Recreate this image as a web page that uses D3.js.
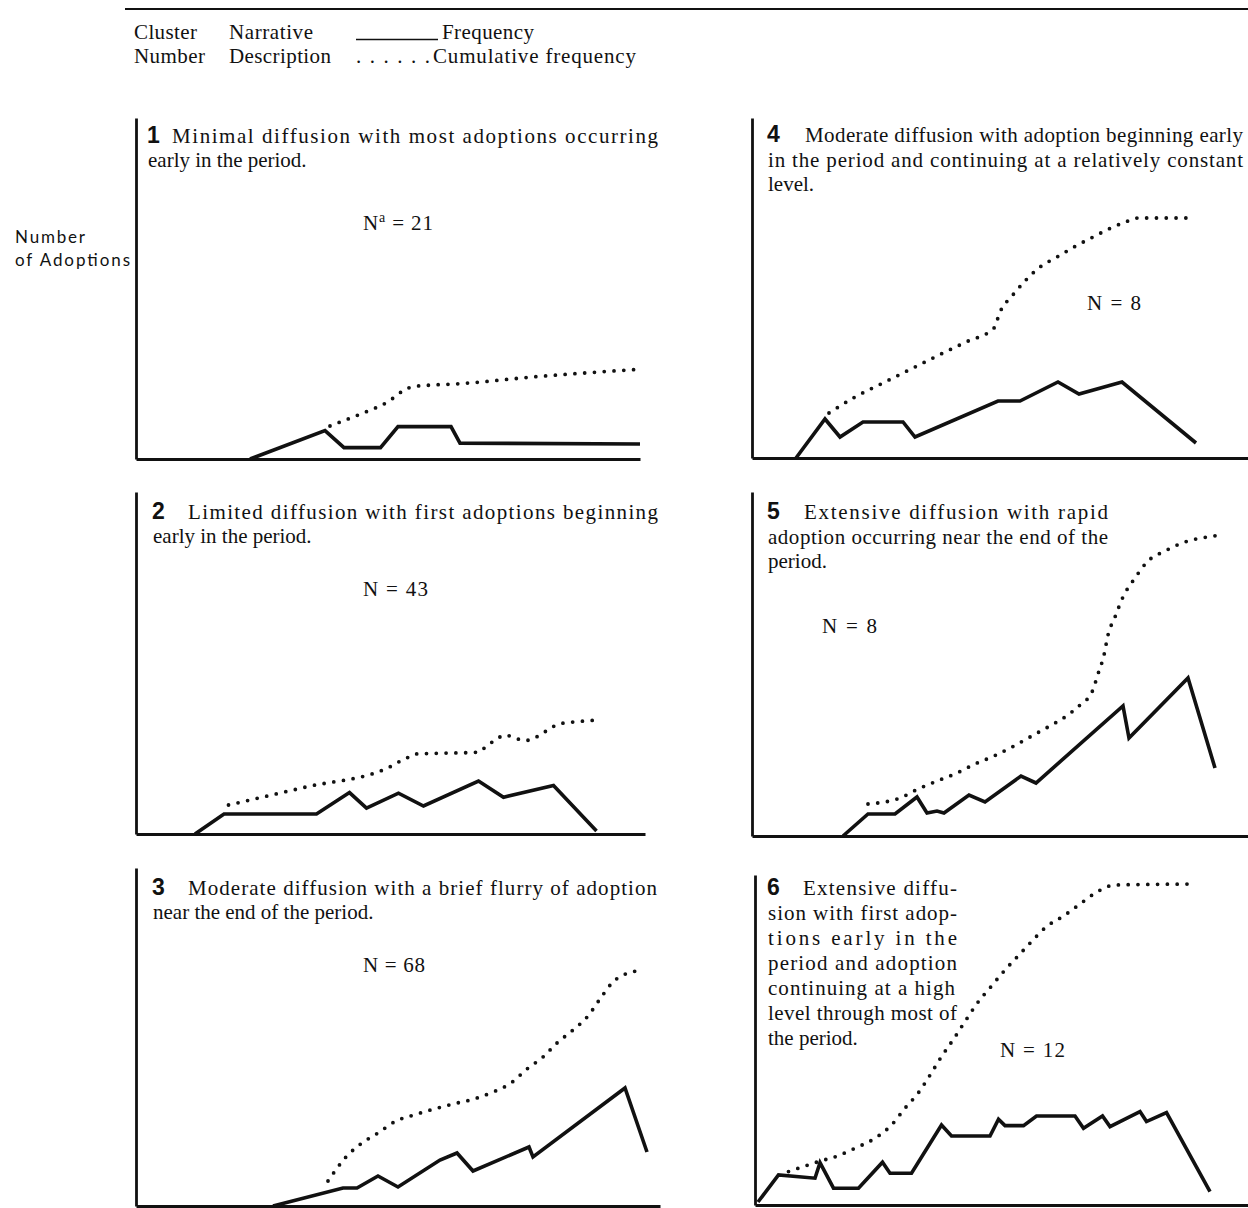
<!DOCTYPE html>
<html>
<head>
<meta charset="utf-8">
<script src="https://cdn.jsdelivr.net/npm/d3@7"></script>
<style>
  html, body { margin: 0; padding: 0; background: #fff; }
  svg { display: block; }
  .serif { font-family: "Liberation Serif", "Times New Roman", serif; fill: #111; }
  .num { font-family: "Liberation Sans", Arial, sans-serif; font-weight: bold; fill: #111; }
  .sans { font-family: Lato, "Open Sans", sans-serif; fill: #111; }
</style>
</head>
<body>
<svg id="chart" width="1248" height="1208"></svg>
<script>
// ---------------- DATA ----------------
// x = position within the period (0-100), y = number of adoptions (relative units)
const clusterNumbers = ["1", "2", "3", "4", "5", "6"];
const nValues = ["21", "43", "68", "8", "8", "12"];

const desc1 = ["Minimal diffusion with most adoptions occurring", "early in the period."];
const desc2 = ["Limited diffusion with first adoptions beginning", "early in the period."];
const desc3 = ["Moderate diffusion with a brief flurry of adoption", "near the end of the period."];
const desc4 = ["Moderate diffusion with adoption beginning early", "in the period and continuing at a relatively constant", "level."];
const desc5 = ["Extensive diffusion with rapid", "adoption occurring near the end of the", "period."];
const desc6 = ["Extensive diffu-", "sion with first adop-", "tions early in the", "period and adoption", "continuing at a high", "level through most of", "the period."];

const freq1 = [[22.8,0],[37.8,14.2],[41.6,5.7],[48.9,5.7],[52.4,16.2],[63,16.2],[64.8,7.9],[100.8,7.5]];
const cum1  = [[38.8,16.5],[42.6,20.2],[46.6,24.2],[50.3,28.5],[52,31.5],[53.6,34.5],[55.6,36.2],[59.4,37],[63.6,37.5],[80.2,41.2],[90.8,43.2],[100.8,44.9]];

const freq2 = [[11.8,0],[17.6,10],[36.1,10],[42.7,20.7],[46.1,12.9],[52.5,20.4],[57.5,14],[68.5,26.5],[73.5,18.4],[83.5,24.2],[92.1,1.5]];
const cum2  = [[18.5,14.5],[34,23.5],[50.5,33.2],[52.3,35.7],[54.1,37.9],[56,40],[68.5,40.9],[70.1,44],[71.9,47],[73.8,49.5],[75.6,48.2],[77.7,46.7],[79.3,47.5],[81,49.9],[82.7,52.5],[84.5,55],[86.5,55.7],[92.5,57]];

const freq3 = [[27.4,0],[41.4,9],[44.2,9],[48.4,15],[52.4,9.5],[60.8,23],[64.2,26.5],[67.4,17.5],[78.6,29.5],[79.4,24.5],[97.8,59],[102.2,27]];
const cum3  = [[38.4,12.5],[42,24.5],[45.2,31.5],[48.4,36.5],[52,42.5],[55.6,45.5],[59.6,48.5],[63.4,51],[67.6,53.5],[71.4,57],[75,61.5],[78.2,68.5],[81.4,74.5],[84.2,81.5],[87.4,88],[90.4,95],[92.8,103.5],[95.2,111.5],[98.4,116.5],[100.2,117.5]];

const freq4 = [[8.8,0],[14.6,19.5],[17.6,10.5],[22.2,18],[30.2,18],[32.6,10.5],[49.2,28.5],[53.6,28.5],[61.2,38],[65.4,32],[74,38],[88.8,7.5]];
const cum4  = [[15.4,22.5],[20.6,30.5],[26.2,37.5],[31.8,44.5],[37.4,51.5],[42.8,58],[48.4,65],[49.6,73],[52,81],[54.6,88.5],[57.6,95.5],[61,100.5],[64.4,105.5],[68.2,110.5],[71.8,115],[75.2,118.5],[77.2,120],[87.6,120]];

const freq5 = [[18.2,0],[23.2,11],[28.6,11],[33,19.5],[35,11.5],[37,12.5],[38.4,11.5],[43.4,20.5],[46.6,17],[53.8,30],[56.8,26.5],[74.2,65],[75.4,49],[87.2,79],[92.6,34]];
const cum5  = [[23.2,16],[29.6,19],[33.2,23.5],[37,27.5],[41,31.5],[44.6,36],[48.4,40],[52,44.5],[55.6,49.5],[59.2,54.5],[62.6,59.5],[65.6,65.5],[68,72],[69.2,81],[70.4,90.5],[71.2,100.5],[72.6,109.5],[74.2,119.5],[76.6,129],[79,137],[82.6,142.5],[86.6,147],[91,149.5],[94.2,150.5]];

const freq6 = [[0.6,1.5],[4.7,15],[12,13.4],[13,21.2],[15.7,8.4],[20.7,8.4],[25.5,21.4],[27,15.9],[31.3,15.9],[37.3,40],[39.3,34.5],[47,34.5],[48.7,42.9],[50,39.7],[53.7,39.7],[56.3,44.5],[64,44.5],[65.7,38.4],[69.5,44.5],[71,39.2],[77,46.7],[78.3,41.7],[82.3,46.2],[91,6.7]];
const cum6  = [[6.7,16.7],[12.7,21.7],[16.7,24.7],[20,28.4],[24,33.4],[27.3,40],[30,48.4],[32.7,56.2],[34.9,64.5],[37.3,74.2],[39.7,82.9],[42.3,92.9],[44.3,100.4],[47.3,109.5],[50,117.5],[52.5,124.2],[55.3,131.7],[58.3,139.2],[61.7,144.5],[65,150.5],[68.5,156.7],[72,160],[88.3,160.5]];

const legendLabels = ["Cluster", "Number", "Narrative", "Description", "Frequency", "Cumulative frequency"];
const yLabel = ["Number", "of Adoptions"];

// ---------------- LAYOUT ----------------
const layout = [
  { x0: 136, bottom: 459,  top: 118, right: 640,  numX: 147, textX: 172, lineEnd: 658,  base: 143, gap: 24, nX: 363, nW: 70, nBase: 230 },
  { x0: 136, bottom: 834,  top: 492, right: 645,  numX: 152, textX: 188, lineEnd: 658,  base: 519, gap: 24, nX: 363, nW: 65, nBase: 596 },
  { x0: 136, bottom: 1206, top: 868, right: 660,  numX: 152, textX: 188, lineEnd: 657,  base: 895, gap: 24, nX: 363, nW: 62, nBase: 972 },
  { x0: 752, bottom: 458,  top: 118, right: 1248, numX: 767, textX: 805, lineEnd: 1243, base: 142, gap: 24.5, nX: 1087, nW: 54, nBase: 310 },
  { x0: 752, bottom: 836,  top: 492, right: 1248, numX: 767, textX: 804, lineEnd: 1108, base: 519, gap: 24.5, nX: 822, nW: 55, nBase: 633 },
  { x0: 755, bottom: 1205, top: 875, right: 1248, numX: 767, textX: 803, lineEnd: 957,  base: 895, gap: 25, nX: 1000, nW: 65, nBase: 1057 }
];
const descs = [desc1, desc2, desc3, desc4, desc5, desc6];
const freqs = [freq1, freq2, freq3, freq4, freq5, freq6];
const cums = [cum1, cum2, cum3, cum4, cum5, cum6];
const justifiedEnds = [null, null, null, null, null, [957, 957, 957, 957, 955]];

const svg = d3.select("#chart");
const FS = 21;

// top rule
svg.append("line").attr("x1", 125).attr("x2", 1248).attr("y1", 9).attr("y2", 9)
  .attr("stroke", "#111").attr("stroke-width", 2.2);

function addText(txt, x, y, cls, size, width) {
  const t = svg.append("text").attr("class", cls).attr("x", x).attr("y", y)
    .attr("font-size", size).text(txt);
  if (width) t.attr("textLength", width).attr("lengthAdjust", "spacing");
  return t;
}
// legend
addText(legendLabels[0], 134, 39, "serif", FS, 63);
addText(legendLabels[1], 134, 63, "serif", FS, 71);
addText(legendLabels[2], 229, 39, "serif", FS, 84);
addText(legendLabels[3], 229, 63, "serif", FS, 102);
svg.append("line").attr("x1", 356).attr("x2", 438).attr("y1", 39.5).attr("y2", 39.5)
  .attr("stroke", "#111").attr("stroke-width", 1.4);
addText(legendLabels[4], 442, 39, "serif", FS, 92);
addText(". . . . . .", 356, 63, "serif", FS, 74);
addText(legendLabels[5], 433, 63, "serif", FS, 203);

// y label
addText(yLabel[0], 15, 243, "sans", 17, 70);
addText(yLabel[1], 15, 266, "sans", 17, 115);

const lineGen = (x, y) => d3.line().x(d => x(d[0])).y(d => y(d[1]));

layout.forEach((L, i) => {
  const x = d3.scaleLinear().domain([0, 100]).range([L.x0, L.x0 + 500]);
  const y = d3.scaleLinear().domain([0, 170]).range([L.bottom, L.bottom - 340]);
  const g = svg.append("g");

  // axes (no ticks)
  const xAxisScale = d3.scaleLinear().domain([0, 1]).range([L.x0, L.right]);
  const yAxisScale = d3.scaleLinear().domain([0, 1]).range([L.bottom, L.top]);
  const ax = g.append("g").attr("transform", `translate(0,${L.bottom})`)
    .call(d3.axisBottom(xAxisScale).ticks(0).tickSizeOuter(0));
  const ay = g.append("g").attr("transform", `translate(${L.x0},0)`)
    .call(d3.axisLeft(yAxisScale).ticks(0).tickSizeOuter(0));
  [ax, ay].forEach(a => a.select(".domain").attr("stroke", "#111").attr("stroke-width", 2.8));

  // cumulative (dotted)
  g.append("path").datum(cums[i])
    .attr("d", lineGen(x, y).curve(d3.curveMonotoneX))
    .attr("fill", "none").attr("stroke", "#111").attr("stroke-width", 3.8)
    .attr("stroke-linecap", "round").attr("stroke-dasharray", "0 9.8");

  // frequency (solid)
  g.append("path").datum(freqs[i])
    .attr("d", lineGen(x, y))
    .attr("fill", "none").attr("stroke", "#111").attr("stroke-width", 3.6)
    .attr("stroke-linejoin", "miter").attr("stroke-miterlimit", 6);

  // cluster number
  addText(clusterNumbers[i], L.numX, L.base, "num", 23);

  // description
  const lines = descs[i];
  lines.forEach((ln, k) => {
    const yy = L.base + k * L.gap;
    const startX = k === 0 ? L.textX : L.numX + 1;
    let w = null;
    if (k < lines.length - 1 || k === 0) {
      const end = (justifiedEnds[i] && k < justifiedEnds[i].length) ? justifiedEnds[i][k] : L.lineEnd;
      w = end - startX;
    }
    addText(ln, startX, yy, "serif", FS, w);
  });

  // N label
  const nt = svg.append("text").attr("class", "serif").attr("x", L.nX).attr("y", L.nBase)
    .attr("font-size", FS)
    .attr("textLength", L.nW).attr("lengthAdjust", "spacing");
  nt.append("tspan").text("N");
  if (i === 0) nt.append("tspan").attr("dy", -8).attr("font-size", 14).text("a");
  nt.append("tspan").attr("dy", i === 0 ? 8 : 0).text("\u00a0=\u00a0" + nValues[i]);
});
</script>
</body>
</html>
